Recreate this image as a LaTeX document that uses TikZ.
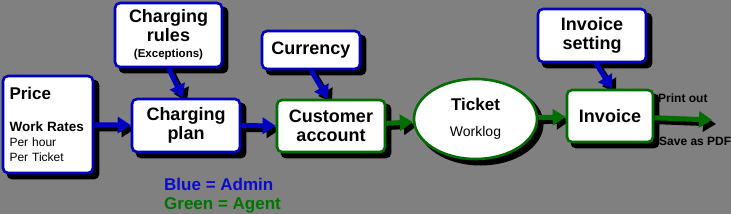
\documentclass[tikz,border=0pt]{standalone}
\usepackage{fontspec}
\setmainfont{Liberation Sans}
\usepackage{xcolor}
\usetikzlibrary{arrows.meta,positioning,shapes.geometric}
\definecolor{bggray}{RGB}{128,128,128}
\definecolor{adminblue}{RGB}{0,0,190}
\definecolor{agentgreen}{RGB}{0,110,0}
\definecolor{keyblue}{RGB}{12,12,200}
\definecolor{keygreen}{RGB}{0,118,0}
\pgfdeclarelayer{shade}
\pgfdeclarelayer{links}
\pgfsetlayers{shade,links,main}
\tikzset{
  box/.style={draw, fill=white, rounded corners=5pt, line width=2.6pt,
              align=center, inner sep=0pt,
              font=\fontsize{18}{19}\selectfont\bfseries},
  admin/.style={box, draw=adminblue},
  agent/.style={box, draw=agentgreen},
  flow/.style={-{Triangle[length=13pt,width=16pt]}, line width=5pt},
  aflow/.style={flow, adminblue},
  gflow/.style={flow, agentgreen},
  sflow/.style={flow, black, transform canvas={shift={(4pt,-4pt)}}},
  note/.style={font=\fontsize{12}{14}\selectfont\bfseries, anchor=base west,
               inner sep=0pt},
  key/.style={font=\fontsize{17}{20}\selectfont\bfseries, anchor=base west,
              inner sep=0pt},
}

\begin{document}
\begin{tikzpicture}[x=1pt, y=-1pt]
  \useasboundingbox (0,0) rectangle (731,214);
  % boxes
  \node[admin, align=left, text width=77pt, minimum width=90pt,
        minimum height=97pt, font=\fontsize{12}{15}\selectfont]
    (price) at (48,124.5)
    {{\fontsize{17}{19}\selectfont\bfseries Price}\\[17pt]
     {\fontsize{13.5}{15}\selectfont\bfseries Work Rates}\\Per hour\\Per Ticket};
  \node[admin, minimum width=107pt, minimum height=64pt] (rules) at (168.5,35)
    {Charging\\rules\\[-3pt]{\fontsize{11.5}{13}\selectfont (Exceptions)}};
  \node[admin, minimum width=108pt, minimum height=53pt] (plan) at (186,125.5)
    {Charging\\plan};
  \node[admin, minimum width=98pt, minimum height=38pt] (cur) at (311,50)
    {Currency};
  \node[agent, minimum width=108pt, minimum height=52pt] (acct) at (331,126)
    {Customer\\account};
  \node[agent, ellipse, minimum width=123pt, minimum height=80pt]
    (ticket) at (475.5,119)
    {{\fontsize{17}{19}\selectfont Ticket}\\[7pt]
     {\fontsize{14}{16}\selectfont\mdseries Worklog}};
  \node[admin, minimum width=108pt, minimum height=53pt] (set) at (592,35.5)
    {Invoice\\setting};
  \node[agent, minimum width=86pt, minimum height=52pt] (inv) at (610,116)
    {Invoice};
  \coordinate (out) at (712,120);
  % output labels
  \node[note] (print) at (658,102) {Print out};
  \node[note] (pdf) at (659,145) {Save as PDF};
  % key
  \node[key, keyblue] (kadmin) at (164,190) {Blue = Admin};
  \node[key, keygreen] (kagent) at (164,209.5) {Green = Agent};
  % shadows
  \begin{pgfonlayer}{shade}
    \fill[bggray] (0,0) rectangle (731,214);
    \foreach \n in {price,rules,plan,cur,acct,set,inv}
      \fill[black, rounded corners=5pt]
        ([shift={(5pt,-5pt)}]\n.south west) rectangle
        ([shift={(5pt,-5pt)}]\n.north east);
    \fill[black] ([shift={(5pt,-5pt)}]ticket.center) ellipse (63 and 41.5);
    \draw[sflow] (price) -- (plan);
    \draw[sflow] (rules.south) -- ([xshift=-3pt]plan.north);
    \draw[sflow] (plan) -- (acct);
    \draw[sflow] (cur.south) -- ([xshift=-3pt]acct.north);
    \draw[sflow] (acct) -- (ticket);
    \draw[sflow] (ticket) -- (inv);
    \draw[sflow] ([xshift=4pt]set.south) -- ([xshift=2pt]inv.north);
    \draw[sflow] (inv) -- (out);
  \end{pgfonlayer}
  % connectors
  \begin{pgfonlayer}{links}
    \draw[aflow] (price) -- (plan);
    \draw[aflow] (rules.south) -- ([xshift=-3pt]plan.north);
    \draw[aflow] (plan) -- (acct);
    \draw[aflow] (cur.south) -- ([xshift=-3pt]acct.north);
    \draw[gflow] (acct) -- (ticket);
    \draw[gflow] (ticket) -- (inv);
    \draw[aflow] ([xshift=4pt]set.south) -- ([xshift=2pt]inv.north);
    \draw[gflow] (inv) -- (out);
  \end{pgfonlayer}
\end{tikzpicture}
\end{document}
